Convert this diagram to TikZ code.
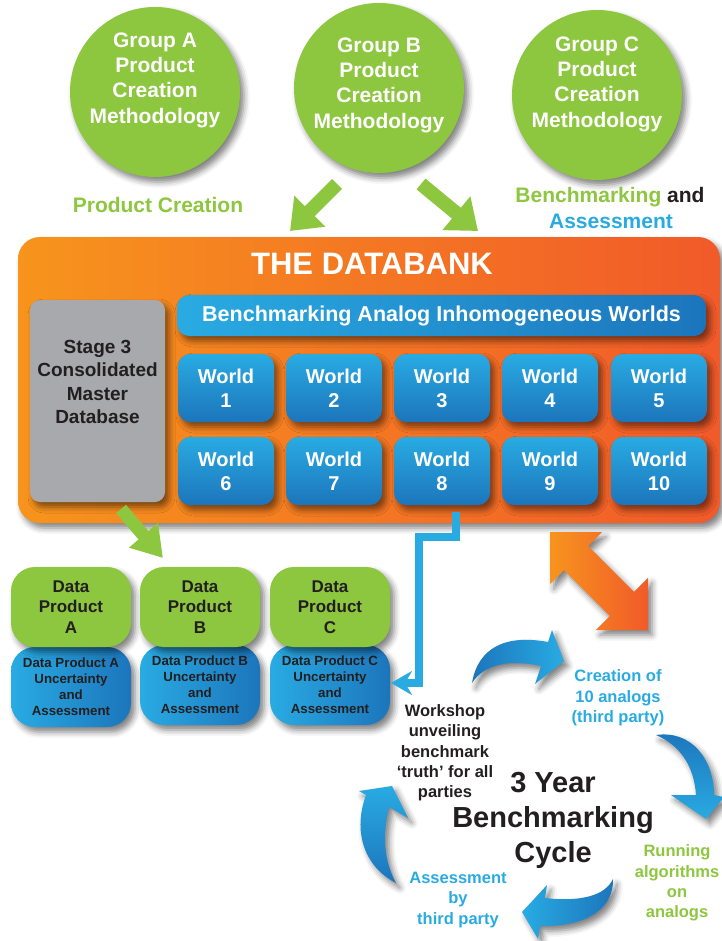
\documentclass[tikz,border=0pt]{standalone}
\usepackage{fontspec}
\setmainfont{Liberation Sans}
\usetikzlibrary{arrows.meta,shadows.blur,calc}
\definecolor{grn}{HTML}{8DC63F}
\definecolor{bluelt}{HTML}{29ABE2}
\definecolor{bluedk}{HTML}{1C75BC}
\definecolor{orgL}{HTML}{F7941D}
\definecolor{orgR}{HTML}{F15A29}
\definecolor{gry}{HTML}{A7A9AC}
\definecolor{dark}{HTML}{231F20}
\tikzset{
  shd/.style={blur shadow={shadow xshift=4pt,shadow yshift=-5pt,shadow blur radius=6pt,shadow opacity=50}},
  grp/.style={circle,fill=grn,minimum size=170pt,inner sep=0pt,shd},
  grptext/.style={text=white,font=\bfseries\fontsize{21}{25.3}\selectfont,align=center},
  garrow/.style={draw=grn,line width=14pt,-{Triangle[length=28pt,width=42pt]}},
  world/.style={rounded corners=12pt,minimum width=96pt,minimum height=68pt,inner sep=0pt,
    top color=bluelt,bottom color=bluedk,text=white,align=center,
    font=\bfseries\fontsize{20}{24}\selectfont,shd},
  dpg/.style={rounded corners=24pt,minimum width=120pt,minimum height=80pt,inner sep=0pt,
    fill=grn,text=dark,align=center,font=\bfseries\fontsize{17}{20.5}\selectfont,shd},
  dpb/.style={rounded corners=24pt,minimum width=120pt,minimum height=80pt,inner sep=0pt,
    left color=bluelt,right color=bluedk,text=dark,align=center,font=\bfseries\fontsize{13.3}{16}\selectfont,shd},
  cyc/.style={align=center,font=\bfseries\fontsize{16.5}{20.3}\selectfont},
  cycarrow/.style={shd},
}
\begin{document}
\begin{tikzpicture}[x=1pt,y=-1pt]
\useasboundingbox (0,0) rectangle (721,941);

% group circles
\node[grp] (ga) at (155,92) {};
\node[grp] (gb) at (379,88) {};
\node[grp] (gc) at (597,95) {};
\node[grptext] (gat) at (155,80) {Group A\\Product\\Creation\\Methodology};
\node[grptext] (gbt) at (379,85) {Group B\\Product\\Creation\\Methodology};
\node[grptext] (gct) at (597,84) {Group C\\Product\\Creation\\Methodology};

% labels under circles
\node[text=grn,font=\bfseries\fontsize{21}{25}\selectfont] (pc) at (158,205) {Product Creation};
\node[text=dark,font=\bfseries\fontsize{21}{25}\selectfont] (ba1) at (610,197) {\textcolor{grn}{Benchmarking} and};
\node[text=bluelt,font=\bfseries\fontsize{21}{25}\selectfont] (ba2) at (611,221) {Assessment};

% green arrows from group B
\coordinate (bl1) at (337,184); \coordinate (bl2) at (290,231);
\coordinate (br1) at (421,184); \coordinate (br2) at (478,231);
\draw[garrow] (bl1) -- (bl2);
\draw[garrow] (br1) -- (br2);

% databank
\node[rounded corners=22pt,minimum width=702pt,minimum height=286pt,inner sep=0pt,
  left color=orgL,right color=orgR,shd] (db) at (369,380) {};
\node[text=white,font=\bfseries\fontsize{31}{36}\selectfont] (dbt) at (372,264) {THE DATABANK};
\node[rounded corners=12pt,minimum width=529pt,minimum height=41pt,inner sep=0pt,
  left color=bluelt,right color=bluedk,text=white,font=\bfseries\fontsize{21.5}{25}\selectfont,shd]
  (banner) at (441.5,315.5) {Benchmarking Analog Inhomogeneous Worlds};
\node[rounded corners=10pt,minimum width=135pt,minimum height=202pt,inner sep=0pt,fill=gry,shd] (stage) at (97.5,401) {};
\node[text=dark,align=center,font=\bfseries\fontsize{19}{23.3}\selectfont] (stagetxt) at (97.5,382) {Stage 3\\Consolidated\\Master\\Database};

% worlds
\node[world] (w1) at (226,388) {World\\1};
\node[world] (w2) at (334,388) {World\\2};
\node[world] (w3) at (442,388) {World\\3};
\node[world] (w4) at (550,388) {World\\4};
\node[world] (w5) at (659,388) {World\\5};
\node[world] (w6) at (226,471) {World\\6};
\node[world] (w7) at (334,471) {World\\7};
\node[world] (w8) at (442,471) {World\\8};
\node[world] (w9) at (550,471) {World\\9};
\node[world] (w10) at (659,471) {World\\10};

% data products
\node[dpb] (dpua) at (71,687) {Data Product A\\Uncertainty\\and\\Assessment};
\node[dpb] (dpub) at (200,685) {Data Product B\\Uncertainty\\and\\Assessment};
\node[dpb] (dpuc) at (330,685) {Data Product C\\Uncertainty\\and\\Assessment};
\node[dpg] (dpa) at (71,607) {Data\\Product\\A};
\node[dpg] (dpbn) at (200,607) {Data\\Product\\B};
\node[dpg] (dpc) at (330,607) {Data\\Product\\C};

% green arrow stage -> data product B
\coordinate (sa1) at (121,509); \coordinate (sa2) at (163,558);
\draw[draw=grn,line width=13pt,-{Triangle[length=30pt,width=36pt]}] (sa1) -- (sa2);

% blue connector from world 8 to data product C
\coordinate (c0) at (456,512);
\coordinate (c1) at (456,537);
\coordinate (c2) at (419,537);
\coordinate (c3) at (419,683);
\coordinate (c4) at (391,683);
\draw[draw=bluelt,line width=8pt,line join=miter,-{Stealth[length=21pt,width=24pt,inset=7pt]}]
  (c0) -- (c1) -- (c2) -- (c3) -- (c4);

% orange double arrow
\begin{scope}[shift={(550,532)},rotate=-45]
\path[left color=orgL,right color=orgR,shd]
  (0,0) -- (36.8,36.8) -- (36.8,17) -- (101.8,17) -- (101.8,36.8) -- (138.6,0)
  -- (101.8,-36.8) -- (101.8,-17) -- (36.8,-17) -- (36.8,-36.8) -- cycle;
\end{scope}

% cycle arrows
\path[cycarrow,left color=bluedk,right color=bluelt]
  (472,683) .. controls (478,648) and (505,634) .. (548,642)
  -- (552,630) -- (564,661) -- (535,684) -- (541,666)
  .. controls (510,659) and (484,664) .. (472,683) -- cycle;
\path[cycarrow,top color=bluedk,bottom color=bluelt]
  (656,735) .. controls (692,730) and (714,760) .. (714,795)
  -- (724,797) -- (706,819) -- (671,795) -- (696,795)
  .. controls (694,766) and (680,745) .. (656,735) -- cycle;
\path[cycarrow,right color=bluedk,left color=bluelt]
  (613,879) .. controls (614,906) and (590,927) .. (540,926)
  -- (538,939) -- (522,912) -- (547,885) -- (545,898)
  .. controls (580,902) and (605,896) .. (613,879) -- cycle;
\path[cycarrow,bottom color=bluedk,top color=bluelt]
  (396,883) .. controls (363,866) and (353,830) .. (366,795)
  -- (359,791) -- (392,786) -- (408,818) -- (389,807)
  .. controls (382,835) and (384,861) .. (396,883) -- cycle;

% cycle texts
\node[cyc,text=bluelt] (creation) at (618,698) {Creation of\\10 analogs\\(third party)};
\node[cyc,text=dark] (workshop) at (445,753) {Workshop\\unveiling\\benchmark\\‘truth’ for all\\parties};
\node[align=center,text=dark,font=\bfseries\fontsize{29}{35}\selectfont] (cycle) at (553,820) {3 Year\\Benchmarking\\Cycle};
\node[cyc,text=grn] (running) at (677,883) {Running\\algorithms\\on\\analogs};
\node[cyc,text=bluelt] (assess) at (458,900) {Assessment\\by\\third party};
\end{tikzpicture}
\end{document}
